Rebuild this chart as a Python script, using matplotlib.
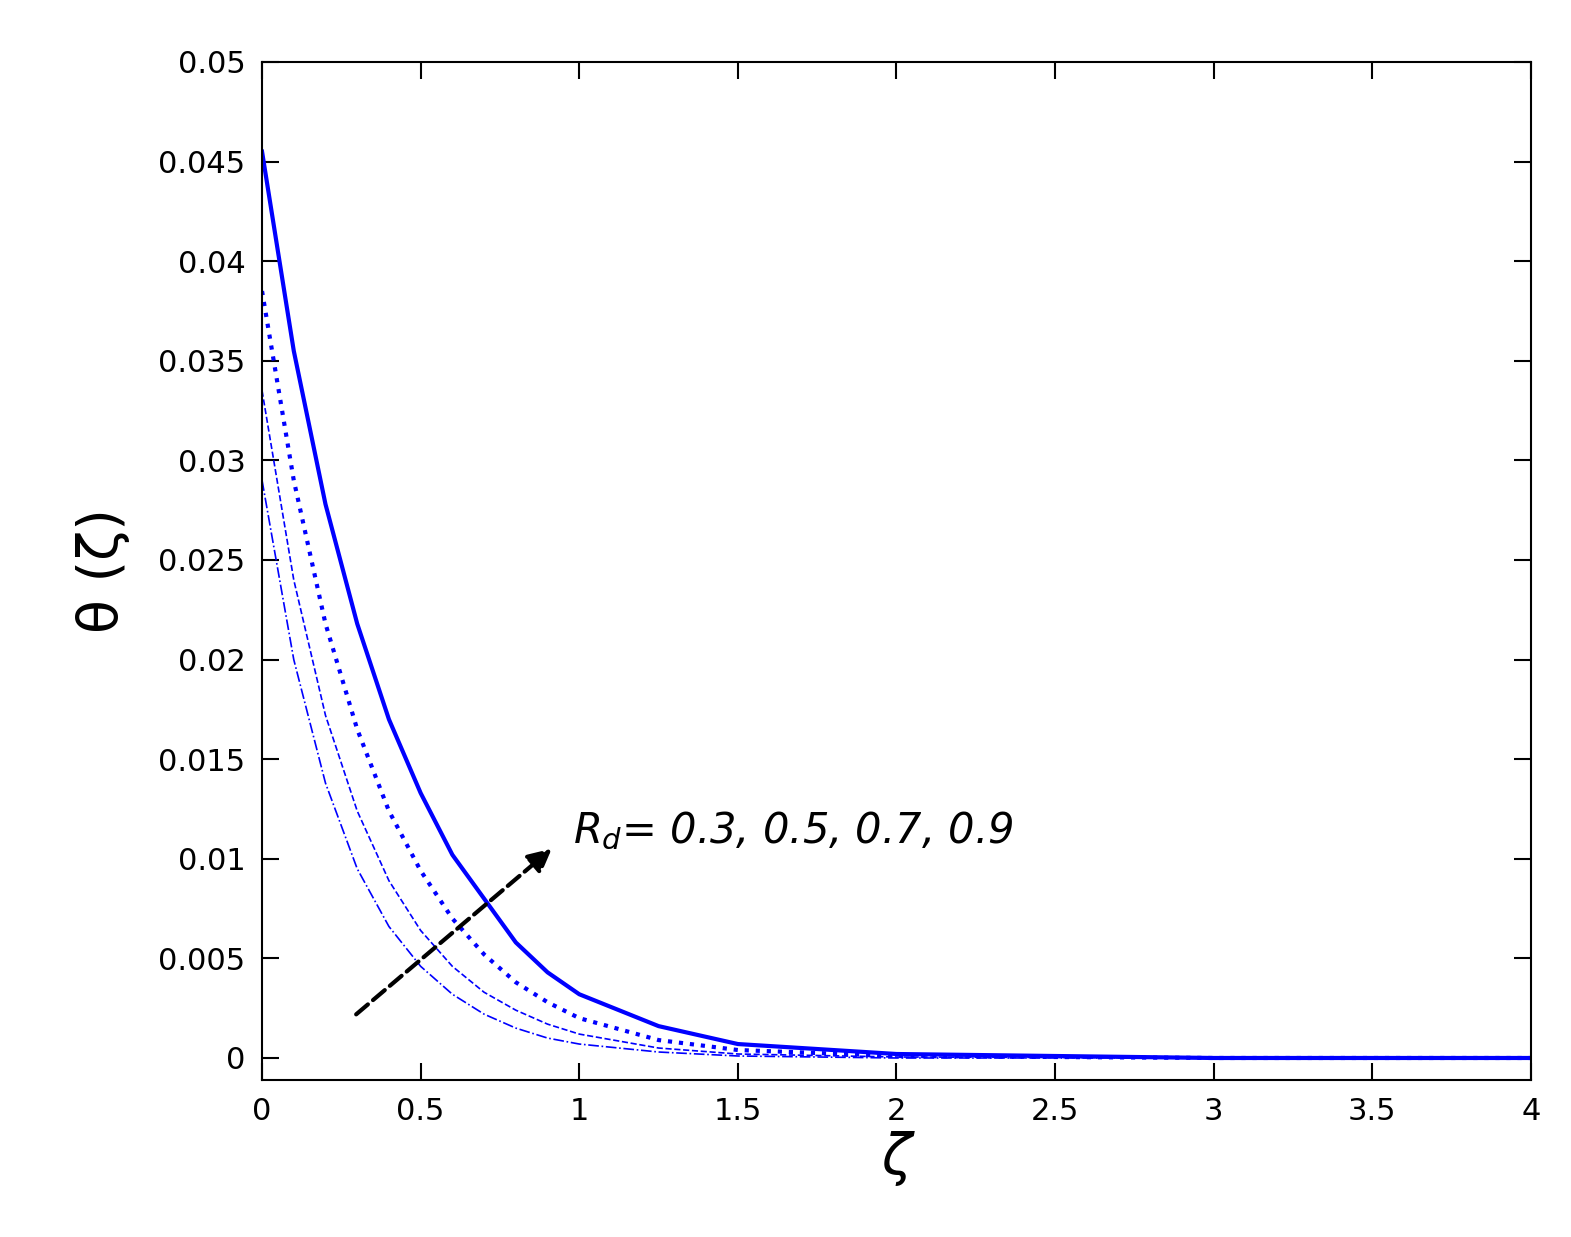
import matplotlib
matplotlib.use("Agg")
import matplotlib.pyplot as plt

zeta = [0, 0.1, 0.2, 0.3, 0.4, 0.5, 0.6, 0.7, 0.8, 0.9, 1.0, 1.25, 1.5, 2.0, 3.0, 4.0]
theta_03 = [0.0290, 0.0200, 0.0138, 0.0095, 0.0066, 0.0046, 0.0032, 0.0022, 0.0015, 0.0010, 0.0007, 0.0003, 0.0001, 0.0, 0.0, 0.0]
theta_05 = [0.0335, 0.0240, 0.0172, 0.0124, 0.0089, 0.0064, 0.0046, 0.0033, 0.0024, 0.0017, 0.0012, 0.0005, 0.0002, 0.00005, 0.0, 0.0]
theta_07 = [0.0385, 0.0290, 0.0218, 0.0165, 0.0124, 0.0094, 0.0070, 0.0052, 0.0038, 0.0028, 0.0020, 0.0009, 0.0004, 0.0001, 0.0, 0.0]
theta_09 = [0.0455, 0.0355, 0.0278, 0.0218, 0.0170, 0.0133, 0.0102, 0.0080, 0.0058, 0.0043, 0.0032, 0.0016, 0.0007, 0.0002, 0.0, 0.0]
xticks = [0, 0.5, 1, 1.5, 2, 2.5, 3, 3.5, 4]
yticks = [0, 0.005, 0.01, 0.015, 0.02, 0.025, 0.03, 0.035, 0.04, 0.045, 0.05]

fig = plt.figure(figsize=(15.71, 12.37), dpi=100)
ax = fig.add_axes([0.1668, 0.127, 0.8077, 0.8229])
ax.plot(zeta, theta_03, color='blue', ls='-.', lw=1.2)
ax.plot(zeta, theta_05, color='blue', ls='--', lw=1.2)
ax.plot(zeta, theta_07, color='blue', ls=':', lw=3)
ax.plot(zeta, theta_09, color='blue', ls='-', lw=3)
ax.set_xlim(0, 4)
ax.set_ylim(-0.0011, 0.05)
ax.set_xticks(xticks)
ax.set_xticklabels([f"{t:g}" for t in xticks])
ax.set_yticks(yticks)
ax.set_yticklabels([f"{t:g}" for t in yticks])
ax.tick_params(direction='in', length=12, width=1.5, top=True, right=True, labelsize=22, pad=12)
for s in ax.spines.values():
    s.set_linewidth(1.5)
ax.annotate('', xy=(0.92, 0.0106), xytext=(0.29, 0.0021),
            arrowprops=dict(arrowstyle='-|>', color='black', lw=3, ls='--', mutation_scale=35))
ax.text(0.98, 0.0108, r'$R_d$= 0.3, 0.5, 0.7, 0.9', fontsize=30, style='italic')
ax.set_xlabel('ζ', fontsize=40, style='italic')
ax.set_ylabel('θ (ζ)', fontsize=40, labelpad=20)
fig.savefig('out.png', dpi=100)
